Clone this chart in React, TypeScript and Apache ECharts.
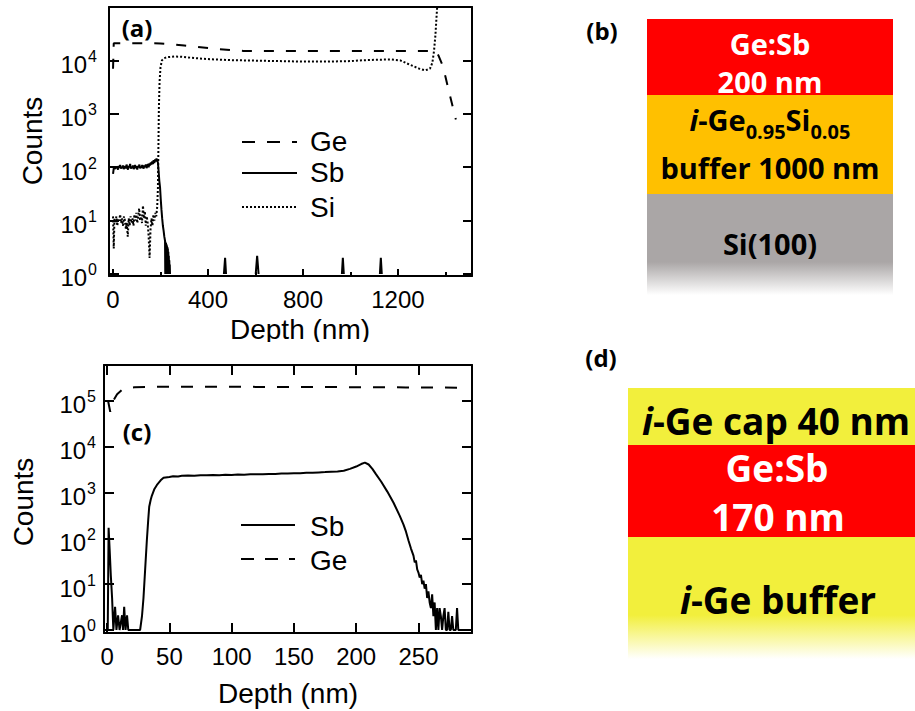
import React, { useEffect, useRef } from 'react';
import * as echarts from 'echarts';

type Pt = [number, number | null];

// ---------- Panel (a): SIMS depth profile, Ge:Sb on GeSi buffer ----------
const GE_A: Pt[] = [
  [0, 7000], [3, 21000], [40, 21000], [80, 21000], [120, 21000], [160, 21000], [200, 20800],
  [250, 20000], [300, 19000], [350, 18000], [400, 17000], [450, 16200], [500, 15600],
  [550, 15000], [700, 15000], [900, 15000], [1100, 15000], [1300, 15000], [1360, 15000],
  [1370, 12500], [1385, 8700], [1400, 5000], [1415, 2600], [1430, 1400], [1444, 780],
];

const SB_A: Pt[] = [
  [0, 75], [3, 95], [6, 100], [9, 92], [12, 104], [15, 97], [18, 100], [21, 90], [24, 106], [27, 98],
  [30, 110], [33, 94], [36, 102], [39, 96], [42, 108], [45, 92], [48, 100], [51, 104], [54, 95], [57, 112],
  [60, 98], [63, 90], [66, 105], [69, 100], [72, 115], [75, 94], [78, 102], [81, 97], [84, 108], [87, 92],
  [90, 100], [93, 110], [96, 96], [99, 104], [102, 90], [105, 106], [108, 100], [111, 112], [114, 95], [117, 103],
  [120, 98], [123, 110], [126, 100], [129, 94], [132, 108], [135, 102], [138, 112], [141, 96], [144, 105], [147, 115],
  [150, 100], [153, 118], [156, 108], [159, 122], [162, 112], [165, 128], [168, 115], [171, 135], [174, 120], [177, 140],
  [180, 128], [183, 145], [186, 135], [189, 122], [192, 85], [195, 55], [198, 42], [201, 25], [204, 16], [207, 11],
  [210, 8], [213, 6.5], [216, 5], [219, 4.2], [220, 1], [221, 4], [222, 1], [223, 3.8], [224, 1], [225, 3.6],
  [226, 1], [227, 3.4], [228, 1], [229, 3.2], [230, 1], [231, 3], [232, 1], [233, 2.6], [234, 1], [235, 2.2],
  [236, 1], [237, 1.8], [238, 1], [239, 1.5], [240, 1], [241, null],
  [467, 1], [472, 2], [476, 1], [477, null],
  [601, 1], [607, 2.2], [613, 1], [614, null],
  [964, 1], [968, 2], [972, 1], [973, null],
  [1124, 1], [1128, 2], [1132, 1],
];

const SI_A: Pt[] = [
  [0, 12], [3, 3], [6, 11], [10, 9], [14, 12], [18, 8], [22, 11], [26, 10], [30, 13], [34, 9],
  [38, 11], [42, 8], [46, 12], [50, 10], [54, 7], [58, 9], [62, 5], [66, 11], [70, 8], [74, 12],
  [78, 9], [82, 11], [86, 8], [90, 13], [94, 10], [98, 14], [102, 9], [106, 12], [110, 17], [114, 10],
  [118, 13], [122, 9], [126, 19], [130, 11], [134, 15], [138, 8], [142, 12], [146, 9], [150, 5], [154, 2],
  [158, 7], [162, 11], [166, 8], [170, 13], [174, 10], [178, 14], [182, 12], [186, 18], [189, 40], [191, 200],
  [193, 1200], [196, 4000], [200, 7500], [206, 10000], [215, 11000], [230, 11500], [260, 11800], [290, 11700],
  [330, 11200], [380, 10700], [430, 10400], [500, 10100], [600, 9900], [700, 9700], [800, 9500], [900, 9500],
  [1000, 9700], [1060, 10100], [1120, 10300], [1170, 10400], [1210, 10000], [1250, 8300], [1290, 7000],
  [1315, 6500], [1335, 7000], [1345, 9000], [1352, 15000], [1358, 30000], [1363, 70000], [1368, 150000],
];

// ---------- Panel (c): Ge cap / Ge:Sb / Ge buffer ----------
const SB_C: Pt[] = [
  [0.5, 1], [1.2, 170], [2, 60], [3, 15], [4, 5], [5, 1], [6.4, 3.2], [7.5, 1], [8.8, 2.1], [10, 1],
  [12, 2.1], [12.8, 1], [13.7, 3.2], [14.8, 1], [16, 2.1], [17, 1], [20, 1], [24, 1], [26.5, 1], [28, 2],
  [29.2, 5], [30.5, 20], [31.9, 90], [33, 250], [33.8, 490], [35, 700], [35.9, 850], [38, 1200], [40, 1470],
  [43, 1850], [45.3, 2100], [50, 2200], [53, 2280], [57, 2250], [60, 2320], [65, 2350], [70, 2320], [75, 2400],
  [80, 2380], [85, 2420], [90, 2400], [95, 2450], [100, 2430], [105, 2480], [110, 2460], [115, 2500], [120, 2520],
  [125, 2500], [130, 2560], [135, 2550], [140, 2600], [145, 2620], [150, 2650], [155, 2640], [160, 2700],
  [165, 2720], [170, 2760], [175, 2800], [180, 2850], [185, 2900], [190, 3000], [195, 3300], [200, 3700],
  [204, 4200], [207, 4500], [210, 4100], [213, 3300], [216, 2500], [220, 1750], [225, 1050], [230, 600],
  [235, 310], [238, 200], [240, 140], [242, 90], [244, 60], [246, 42], [247, 30], [248, 33], [249, 21],
  [250, 18], [251, 14], [252, 16], [253, 10], [254, 12], [255, 8], [256, 10], [257, 5], [258, 7], [259, 4],
  [260, 3], [261, 6], [262, 2], [263, 4], [264, 1], [265, 3], [266, 1], [267, 3], [268, 2], [269, 1],
  [270, 2], [271, 3], [272, 1], [273, 1], [274, 2.5], [275, 1], [276, 1], [277, 2], [278, 1], [280, 1],
  [281, 3], [282, 1], [284, 1], [286, 1],
];

const GE_C: Pt[] = [
  [0.8, 100000], [2.5, 58000], [4.8, 100000], [8, 140000], [12, 175000], [16, 190000], [22, 200000],
  [40, 205000], [80, 205000], [120, 203000], [160, 202000], [200, 200000], [240, 198000], [290, 195000],
];

const X_MAJOR_A = [0, 400, 800, 1200];
const X_MINOR_A = [200, 600, 1000, 1400];
const X_TICKS_C = [0, 50, 100, 150, 200, 250];

const AX_FONT = '"Liberation Sans", Arial, sans-serif';
const BOLD_FONT = '"Open Sans", "Noto Sans", sans-serif';
const BLACK = '#000';

const expLabel = (maxExp: number) => (v: number) => {
  const e = Math.log10(v);
  const n = Math.round(e);
  if (Math.abs(e - n) > 1e-6 || n < 0 || n > maxExp) return '';
  return `{b|10}{s|${n}}`;
};

const plainNum = (v: number) => String(v);

const logAxis = (gridIndex: number, min: number, max: number, maxExp: number, margin: number) => ({
  type: 'log', gridIndex, min, max, logBase: 10, position: 'left',
  axisLine: { show: true, onZero: false, lineStyle: { color: BLACK, width: 2 } },
  axisTick: { show: true, inside: true, length: 10, lineStyle: { color: BLACK, width: 2 } },
  splitLine: { show: false },
  minorTick: { show: false },
  axisLabel: {
    show: true, formatter: expLabel(maxExp), margin, padding: [8, 0, 0, 0],
    rich: {
      b: { fontSize: 24, fontFamily: AX_FONT, color: BLACK, verticalAlign: 'middle' },
      s: { fontSize: 16, fontFamily: AX_FONT, color: BLACK, verticalAlign: 'middle', padding: [0, 0, 16, 1] },
    },
  },
});

const mirrorLog = (gridIndex: number, min: number, max: number, len: number) => ({
  type: 'log', gridIndex, min, max, logBase: 10, position: 'right',
  axisLine: { show: true, onZero: false, lineStyle: { color: BLACK, width: 2 } },
  axisTick: { show: true, inside: true, length: len, lineStyle: { color: BLACK, width: 2 } },
  axisLabel: { show: false }, splitLine: { show: false },
});

const lineSeries = (name: string, data: Pt[], xi: number, yi: number, type: any, width = 2) => ({
  name, type: 'line', data, xAxisIndex: xi, yAxisIndex: yi,
  showSymbol: false, symbol: 'none', connectNulls: false, clip: true,
  lineStyle: { color: BLACK, width, type, cap: 'butt' },
  emphasis: { disabled: true }, silent: true,
});

const txt = (text: string, x: number, y: number, fontSize: number, extra: any = {}) => ({
  type: 'text', x, y, z: 50,
  style: { text, fontSize, fontFamily: AX_FONT, fill: BLACK, align: 'center', verticalAlign: 'middle', ...extra },
});

export default function App() {
  const ref = useRef<HTMLDivElement>(null);

  useEffect(() => {
    const chart = echarts.init(ref.current!, null, { renderer: 'svg' });

    const fade = (color: string) => new echarts.graphic.LinearGradient(0, 0, 0, 1, [
      { offset: 0, color }, { offset: 1, color: '#ffffff' },
    ]);

    const legendLine = (x1: number, x2: number, y: number, dash: number[] | null) => ({
      type: 'line', z: 50,
      shape: { x1, y1: y, x2, y2: y },
      style: { stroke: BLACK, lineWidth: 2, lineDash: dash || undefined },
    });

    const bold = { fontFamily: BOLD_FONT, fontWeight: 'bold' };
    const richBig = (size: number) => ({
      i: { fontSize: size, fontFamily: BOLD_FONT, fontWeight: 'bold', fontStyle: 'italic', fill: BLACK, color: BLACK },
      n: { fontSize: size, fontFamily: BOLD_FONT, fontWeight: 'bold', fill: BLACK, color: BLACK },
    });

    const option: any = {
      animation: false,
      backgroundColor: '#ffffff',
      grid: [
        { left: 109, top: 7, width: 363, height: 269, containLabel: false },
        { left: 104, top: 365, width: 368, height: 268, containLabel: false },
      ],
      xAxis: [
        {
          type: 'value', gridIndex: 0, min: -17, max: 1512, position: 'bottom',
          axisLine: { show: true, onZero: false, lineStyle: { color: BLACK, width: 2 } },
          axisTick: { show: true, inside: true, length: 7, customValues: X_MAJOR_A, lineStyle: { color: BLACK, width: 2 } },
          axisLabel: { show: true, customValues: X_MAJOR_A, formatter: plainNum, fontSize: 24, fontFamily: AX_FONT, color: BLACK, margin: 11 },
          splitLine: { show: false },
        },
        {
          type: 'value', gridIndex: 0, min: -17, max: 1512, position: 'bottom',
          axisLine: { show: false, onZero: false },
          axisTick: { show: true, inside: true, length: 4, customValues: X_MINOR_A, lineStyle: { color: BLACK, width: 2 } },
          axisLabel: { show: false }, splitLine: { show: false },
        },
        {
          type: 'value', gridIndex: 0, min: -17, max: 1512, position: 'top',
          axisLine: { show: true, onZero: false, lineStyle: { color: BLACK, width: 2 } },
          axisTick: { show: false }, axisLabel: { show: false }, splitLine: { show: false },
        },
        {
          type: 'value', gridIndex: 1, min: -2.5, max: 293, position: 'bottom',
          axisLine: { show: true, onZero: false, lineStyle: { color: BLACK, width: 2 } },
          axisTick: { show: true, inside: true, length: 10, customValues: X_TICKS_C, lineStyle: { color: BLACK, width: 2 } },
          axisLabel: { show: true, customValues: X_TICKS_C, formatter: plainNum, fontSize: 24, fontFamily: AX_FONT, color: BLACK, margin: 11 },
          splitLine: { show: false },
        },
        {
          type: 'value', gridIndex: 1, min: -2.5, max: 293, position: 'top',
          axisLine: { show: true, onZero: false, lineStyle: { color: BLACK, width: 2 } },
          axisTick: { show: true, inside: true, length: 10, customValues: X_TICKS_C, lineStyle: { color: BLACK, width: 2 } },
          axisLabel: { show: false }, splitLine: { show: false },
        },
      ],
      yAxis: [
        logAxis(0, 0.917, 100000, 4, 12),
        mirrorLog(0, 0.917, 100000, 9),
        logAxis(1, 0.86, 610000, 5, 8),
        mirrorLog(1, 0.86, 610000, 10),
      ],
      series: [
        lineSeries('Ge', GE_A, 0, 0, [10, 12]),
        lineSeries('Sb', SB_A, 0, 0, 'solid'),
        lineSeries('Si', SI_A, 0, 0, [2, 2]),
        lineSeries('Sb', SB_C, 3, 2, 'solid'),
        lineSeries('Ge', GE_C, 3, 2, [12, 12]),
      ],
      graphic: [
        // axis titles
        { ...txt('Counts', 32, 141, 28), rotation: Math.PI / 2 },
        txt('Depth (nm)', 300, 329, 28),
        { type: 'rect', z: 60, shape: { x: 180, y: 342, width: 260, height: 12 }, style: { fill: '#ffffff' } },
        { ...txt('Counts', 23, 502, 28), rotation: Math.PI / 2 },
        txt('Depth (nm)', 288, 693, 28),
        // panel tags
        txt('(a)', 137, 27, 24, bold),
        txt('(c)', 137, 431, 24, bold),
        txt('(b)', 602, 30, 24, bold),
        txt('(d)', 601, 357, 24, bold),
        // legend (a)
        legendLine(242, 297, 142, [13, 12]),
        legendLine(242, 297, 173, null),
        legendLine(242, 297, 207, [2, 2]),
        txt('Ge', 310, 141, 28, { align: 'left' }),
        txt('Sb', 310, 172, 28, { align: 'left' }),
        txt('Si', 310, 207, 28, { align: 'left' }),
        // legend (c)
        legendLine(241, 295, 525, null),
        legendLine(241, 295, 559, [13, 11]),
        txt('Sb', 310, 526, 28, { align: 'left' }),
        txt('Ge', 310, 560, 28, { align: 'left' }),
        // panel (b) stack
        { type: 'rect', z: 10, shape: { x: 647, y: 19, width: 246, height: 76 }, style: { fill: '#ff0000' } },
        { type: 'rect', z: 10, shape: { x: 647, y: 95, width: 246, height: 99 }, style: { fill: '#ffc000' } },
        { type: 'rect', z: 10, shape: { x: 647, y: 194, width: 246, height: 68 }, style: { fill: '#aaa6a6' } },
        { type: 'rect', z: 10, shape: { x: 647, y: 262, width: 246, height: 33 }, style: { fill: fade('#aaa6a6') } },
        txt('Ge:Sb', 770, 43, 29, { ...bold, fill: '#ffffff' }),
        txt('200 nm', 770, 81, 29, { ...bold, fill: '#ffffff' }),
        {
          type: 'text', x: 770, y: 119, z: 50,
          style: {
            text: '{i|i}{n|-Ge}{sub|0.95}{n|Si}{sub|0.05}', align: 'center', verticalAlign: 'middle',
            rich: {
              ...richBig(29),
              sub: { fontSize: 20, fontFamily: BOLD_FONT, fontWeight: 'bold', fill: BLACK, color: BLACK, padding: [24, 0, 0, 0] },
            },
          },
        },
        txt('buffer 1000 nm', 770, 167, 29, bold),
        txt('Si(100)', 770, 243, 29, bold),
        // panel (d) stack
        { type: 'rect', z: 10, shape: { x: 628, y: 388, width: 287, height: 57 }, style: { fill: '#f2ef3c' } },
        { type: 'rect', z: 10, shape: { x: 628, y: 445, width: 287, height: 92 }, style: { fill: '#ff0000' } },
        { type: 'rect', z: 10, shape: { x: 628, y: 537, width: 287, height: 78 }, style: { fill: '#f2ef3c' } },
        { type: 'rect', z: 10, shape: { x: 628, y: 615, width: 287, height: 44 }, style: { fill: fade('#f2ef3c') } },
        {
          type: 'text', x: 776, y: 420, z: 50,
          style: { text: '{i|i}{n|-Ge cap 40 nm}', align: 'center', verticalAlign: 'middle', rich: richBig(37) },
        },
        txt('Ge:Sb', 777, 467, 37, { ...bold, fill: '#ffffff' }),
        txt('170 nm', 778, 516, 37, { ...bold, fill: '#ffffff' }),
        {
          type: 'text', x: 778, y: 599, z: 50,
          style: { text: '{i|i}{n|-Ge buffer}', align: 'center', verticalAlign: 'middle', rich: richBig(37) },
        },
      ],
    };

    chart.setOption(option);
    return () => chart.dispose();
  }, []);

  return (
    <div
      ref={ref}
      style={{ position: 'fixed', left: 0, top: 0, width: 915, height: 711, background: '#ffffff' }}
    />
  );
}
